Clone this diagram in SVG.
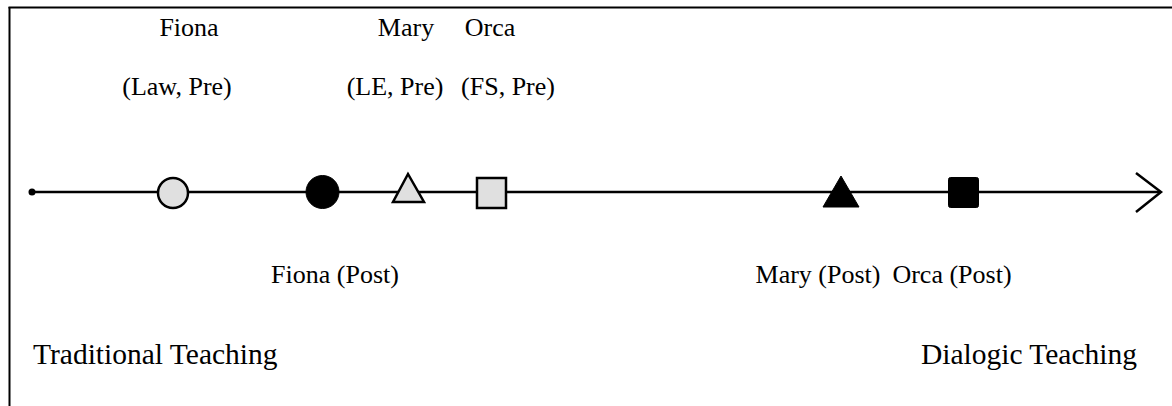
<svg xmlns="http://www.w3.org/2000/svg" width="1172" height="406" viewBox="0 0 1172 406">
  <style>
    text { font-family: "Liberation Serif", "Times New Roman", serif; font-size: 26px; fill: #000; }
    .mid { text-anchor: middle; }
    .pole { font-size: 29.5px; }
    .pre { fill: #e0e0e0; stroke: #000; stroke-width: 2.5; }
    .post { fill: #000; stroke: #000; stroke-width: 1; stroke-linejoin: round; }
    .axis { stroke: #000; stroke-width: 2.5; fill: none; }
  </style>

  <!-- frame: top and left edges -->
  <g id="frame">
    <line x1="8.5" y1="7.5" x2="1172" y2="7.5" stroke="#000" stroke-width="2"/>
    <line x1="9.5" y1="7" x2="9.5" y2="406" stroke="#000" stroke-width="2"/>
  </g>

  <!-- teaching continuum axis -->
  <g id="connectors">
    <line class="axis" x1="32" y1="192" x2="1160" y2="192"/>
    <circle cx="32" cy="192" r="3.5" fill="#000"/>
    <polyline class="axis" points="1136,173 1161,192 1136,212" stroke-linejoin="miter"/>
  </g>

  <g id="fiona-pre">
    <circle class="pre" cx="173" cy="193" r="15"/>
    <text class="mid" x="189" y="36">Fiona</text>
    <text class="mid" x="177" y="95">(Law, Pre)</text>
  </g>

  <g id="fiona-post">
    <circle class="post" cx="322.5" cy="192" r="16.5"/>
    <text class="mid" x="335" y="283">Fiona (Post)</text>
  </g>

  <g id="mary-pre">
    <polygon class="pre" points="408,174 393,202 424,202"/>
    <text class="mid" x="406" y="36">Mary</text>
    <text class="mid" x="395" y="95">(LE, Pre)</text>
  </g>

  <g id="orca-pre">
    <rect class="pre" x="477" y="178" width="29" height="30"/>
    <text class="mid" x="490" y="36">Orca</text>
    <text class="mid" x="508" y="95">(FS, Pre)</text>
  </g>

  <g id="mary-post">
    <polygon class="post" points="841,176 823,207 859,207"/>
    <text class="mid" x="818" y="283">Mary (Post)</text>
  </g>

  <g id="orca-post">
    <rect class="post" x="948.5" y="177.5" width="30" height="30" rx="2"/>
    <text class="mid" x="952" y="283">Orca (Post)</text>
  </g>

  <g id="poles">
    <text class="pole" x="33" y="364">Traditional Teaching</text>
    <text class="pole" x="1137" y="364" text-anchor="end">Dialogic Teaching</text>
  </g>
</svg>
